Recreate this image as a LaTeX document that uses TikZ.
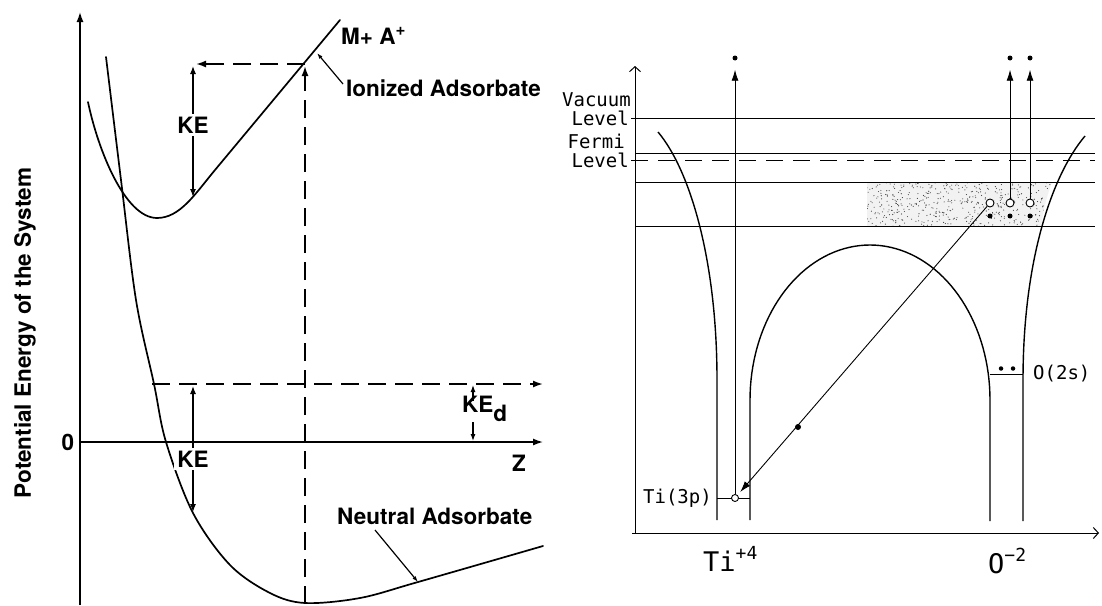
\documentclass[tikz,border=0pt]{standalone}
\usepackage{fontspec}
\setmainfont{TeX Gyre Heros}
\newfontfamily\monof{DejaVu Sans Mono}
\usetikzlibrary{arrows.meta}
\begin{document}
\begin{tikzpicture}[x=1pt,y=-1pt,
  lbl/.style={font=\fontsize{22.5}{24}\selectfont\bfseries, inner sep=1pt},
  rlbl/.style={font=\monof\fontsize{19}{21}\selectfont, inner sep=0pt},
  curve/.style={line width=1.7pt, line cap=round},
  axisL/.style={line width=1.4pt, -{Latex[length=10pt,width=7pt]}},
  dsh/.style={line width=1.7pt, dash pattern=on 18pt off 9pt, -{Latex[length=10pt,width=7pt]}},
  kearrow/.style={line width=1.2pt, {Latex[length=8pt,width=6pt]}-{Latex[length=8pt,width=6pt]}},
  onearrow/.style={line width=1.2pt, -{Latex[length=7pt,width=5pt]}},
  pointer/.style={line width=1.2pt, -{Latex[length=6pt,width=4pt]}},
  rc/.style={line width=1.4pt},
  hl/.style={line width=0.9pt},
  axisR/.style={line width=1pt, -{Straight Barb[length=5pt,width=11pt]}},
  ar/.style={line width=0.9pt, -{Latex[length=11pt,width=7pt]}},
  hole/.style={circle, draw, line width=0.9pt, fill=white, inner sep=0pt, minimum size=8pt},
  elec/.style={circle, fill=black, inner sep=0pt, minimum size=5pt},
  ionlbl/.style={font=\monof\fontsize{27}{30}\selectfont, inner sep=0pt, anchor=base west}
]
\useasboundingbox (0,0) rectangle (1102,605);
\fill[white] (0,0) rectangle (1102,605);

% ================= LEFT PANEL =================
\coordinate (yb) at (80,605);
\coordinate (yt) at (80,12);
\coordinate (zo) at (80,442);
\coordinate (ze) at (543,442);
\draw[axisL] (yb) -- (yt);
\draw[axisL] (zo) -- (ze);

% neutral adsorbate curve
\draw[curve] plot[smooth, tension=0.55] coordinates {(106,57) (121,180) (136,300) (154,384) (166,442) (193,513) (230,565) (270,593) (305,603) (360,598) (418,582) (543,546)};
% ionized adsorbate curve
\draw[curve] (88,102) .. controls (98,150) and (125,218) .. (157,218)
  .. controls (180,218) and (195,194) .. (215,170) -- (340,20);

% dashed constructions
\coordinate (vmin) at (305,604);
\coordinate (vtop) at (305,66);
\coordinate (hstart) at (305,64);
\coordinate (hend) at (196,64);
\draw[dsh] (vmin) -- (vtop);
\draw[dsh] (hstart) -- (hend);
\coordinate (lstart) at (152,384);
\coordinate (lend) at (543,384);
\draw[dsh] (lstart) -- (lend);

% KE arrows
\coordinate (ke1t) at (193,66);
\coordinate (ke1b) at (193,197);
\draw[kearrow] (ke1t) -- (ke1b);
\node[lbl, fill=white, inner sep=3pt] (ke1) at (193,125) {KE};
\coordinate (ke2t) at (193,386);
\coordinate (ke2b) at (193,512);
\draw[kearrow] (ke2t) -- (ke2b);
\node[lbl, fill=white, inner sep=3pt] (ke2) at (193,459) {KE};

% KEd
\node[lbl, anchor=west] (ked) at (461,409) {KE\raisebox{-0.38em}{d}};
\coordinate (kedu) at (473,385);
\coordinate (kedd) at (473,441);
\draw[onearrow] (473,401) -- (kedu);
\draw[onearrow] (473,422) -- (kedd);

% labels
\node[lbl, anchor=west] (mpa) at (340,36) {M+ A\raisebox{0.42em}{\fontsize{17}{17}\selectfont +}};
\node[lbl, anchor=west] (ion) at (345,88) {Ionized Adsorbate};
\node[lbl, anchor=west] (neu) at (336,516) {Neutral Adsorbate};
\coordinate (ionp) at (317,53);
\coordinate (neup) at (418,582);
\draw[pointer] (343,84) -- (ionp);
\draw[pointer] (375,530) -- (neup);
\node[lbl] (zero) at (68,442) {0};
\node[lbl] (zlab) at (519,463) {Z};
\node[lbl, rotate=90] (ylab) at (25,333) {Potential Energy of the System};

% ================= RIGHT PANEL =================
% stippled band
\begin{scope}
  \clip (867,182) -- (1052,182) .. controls (1046,198) and (1043,212) .. (1041,226) -- (867,226) -- cycle;
  \fill[black!5] (860,170) rectangle (1060,230);
  \pgfmathsetseed{7}
  \foreach \i in {1,...,480}{
    \fill[black!75] ({867+185*rnd},{182+45*rnd}) circle (0.55);
  }
\end{scope}

% axes
\coordinate (ro) at (635,533);
\draw[axisR] (635,533) -- (635,66);
\draw[axisR] (632,533) -- (1099,533);

% levels
\draw[hl] (631,118) -- (1095,118);
\draw[hl] (635,153) -- (1095,153);
\draw[hl, dash pattern=on 17pt off 10pt] (631,160) -- (1095,160);
\draw[hl] (635,182) -- (1095,182);
\draw[hl] (635,226) -- (1095,226);

\node[rlbl, anchor=base east] (vac) at (631,106) {Vacuum};
\node[rlbl, anchor=base east] (vacl) at (629,125) {Level};
\node[rlbl, anchor=base east] (fer) at (625,148) {Fermi};
\node[rlbl, anchor=base east] (ferl) at (629,167) {Level};

% Ti well left wall
\draw[rc] (717,520) -- (717,380) .. controls (717,260) and (690,170) .. (658,132);
% dome between Ti and O
\draw[rc] (750,520) -- (750,400) -- plot[domain=180:360, samples=73] ({870+120*cos(\x)},{400+155*sin(\x)}) -- (990,521);
% O well right wall
\draw[rc] (1023,521) -- (1023,380) .. controls (1023,260) and (1052,175) .. (1085,136);

% core levels
\draw[hl] (717,498) -- (750,498);
\draw[hl] (990,374) -- (1023,374);
\node[elec, minimum size=4.5pt] (os1) at (1001,368.5) {};
\node[elec, minimum size=4.5pt] (os2) at (1013,368.5) {};
\node[rlbl, anchor=west] (o2s) at (1033,374) {O(2s)};
\node[rlbl, anchor=east] (ti3p) at (712,498) {Ti(3p)};

\node[hole, minimum size=7pt] (tp) at (735,498) {};
\node[hole] (h1) at (990,203) {};
\node[hole] (h2) at (1010,203) {};
\node[hole] (h3) at (1030,203) {};
\node[elec] (d1) at (990,216) {};
\node[elec] (d2) at (1010,216) {};
\node[elec] (d3) at (1030,216) {};

% emitted electrons
\node[elec] (e1) at (735,58) {};
\node[elec] (e2) at (1010,58) {};
\node[elec] (e3) at (1030,58) {};
\draw[ar, shorten >=9pt] (tp) -- (e1);
\draw[ar, shorten >=9pt] (h2) -- (e2);
\draw[ar, shorten >=9pt] (h3) -- (e3);

% Auger transition
\draw[ar, shorten >=4pt] (h1) -- (tp);
\node[elec, minimum size=6pt] (mid) at (798,427) {};

% ion labels
\node[ionlbl] (ti) at (703,571) {Ti\raisebox{12pt}{\fontsize{18}{18}\selectfont +4}};
\node[ionlbl] (ox) at (988,573) {O\raisebox{12pt}{\fontsize{18}{18}\selectfont −2}};
\end{tikzpicture}
\end{document}
